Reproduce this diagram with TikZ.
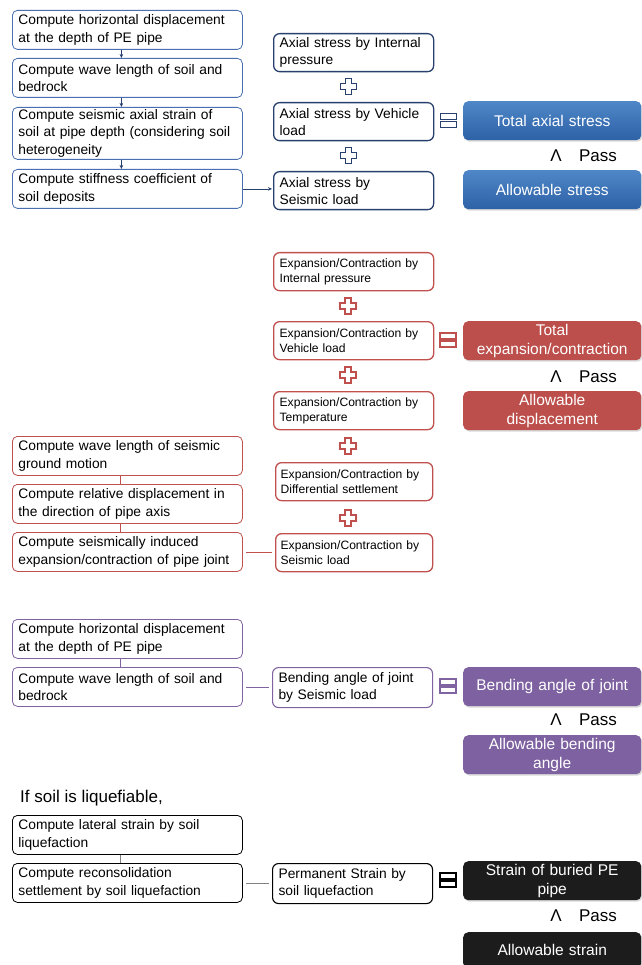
\documentclass[tikz,border=0pt]{standalone}
\usepackage{fontspec}
\setmainfont{Liberation Sans}
\usetikzlibrary{arrows.meta,shadows}
\definecolor{blueL}{HTML}{4A6FB0}
\definecolor{blueD}{HTML}{27406E}
\definecolor{blueT}{HTML}{4F87C8}
\definecolor{blueB}{HTML}{2D62A6}
\definecolor{redC}{HTML}{C0504D}
\definecolor{redF}{HTML}{BC4F4C}
\definecolor{purC}{HTML}{8064A2}
\definecolor{purF}{HTML}{7D61A0}
\definecolor{blkF}{HTML}{1C1C1C}
\newcommand\fs[2]{\fontsize{#1}{#2}\selectfont}
\tikzset{
  lb/.style={draw=#1, fill=white, rounded corners=5pt, text width=218pt, inner xsep=6pt, inner ysep=1pt,
    align=left, anchor=north west, minimum height=39pt, font=\fs{13.8}{17.5}, line width=0.8pt},
  mb/.style={draw=#1, fill=white, rounded corners=6pt, text width=148pt, inner xsep=6pt, inner ysep=1pt,
    align=left, anchor=north west, minimum height=38pt, font=\fs{13.8}{17}, line width=1.3pt},
  redtxt/.style={font=\fs{12.1}{15}},
  rb/.style={rounded corners=5pt, text width=174pt, inner xsep=2pt, inner ysep=1pt, align=center,
    anchor=north west, minimum height=39pt, text=white, font=\fs{15.5}{19},
    drop shadow={opacity=0.3, shadow xshift=1.2pt, shadow yshift=-1.5pt}},
  passtxt/.style={font=\fs{17}{20}, text=black, inner sep=0pt},
  arr/.style={draw=blueD, line width=0.6pt, -{Stealth[length=4pt,width=3.5pt]}},
  conn/.style={line width=0.8pt, shorten <=3pt, shorten >=3pt},
  plussign/.pic={\path[pic actions] (-3,-8)--(3,-8)--(3,-3)--(8,-3)--(8,3)--(3,3)--(3,8)--(-3,8)--(-3,3)--(-8,3)--(-8,-3)--(-3,-3)--cycle;},
  eqsign/.pic={\path[pic actions] (-8,-7) rectangle (8,-1); \path[pic actions] (-8,1) rectangle (8,7);}
}
\begin{document}
\begin{tikzpicture}[x=1pt,y=-1pt]
\useasboundingbox[fill=white] (0,0) rectangle (641,965);

% ---------- Section 1 (blue) ----------
\node[lb=blueL] (a1) at (12,10) {Compute horizontal displacement\\at the depth of PE pipe};
\node[lb=blueL] (a2) at (12,58) {Compute wave length of soil and\\bedrock};
\node[lb=blueL, minimum height=52pt] (a3) at (12,107) {Compute seismic axial strain of\\soil at pipe depth (considering soil\\heterogeneity};
\node[lb=blueL] (a4) at (12,169) {Compute stiffness coefficient of\\soil deposits};
\draw[arr] ([xshift=-6pt]a1.south) -- ([xshift=-6pt]a2.north);
\draw[arr] ([xshift=-6pt]a2.south) -- ([xshift=-6pt]a3.north);
\draw[arr] ([xshift=-6pt]a3.south) -- ([xshift=-6pt]a4.north);

\node[mb=blueD] (b1) at (273,33) {Axial stress by Internal\\pressure};
\node[mb=blueD] (b2) at (273,102) {Axial stress by Vehicle\\load};
\node[mb=blueD] (b3) at (273,171) {Axial stress by\\Seismic load};
\draw[arr, shorten >=1pt] (a4.east) -- (a4.east -| b3.west);
\pic[draw=blueD, fill=white, line width=0.9pt] at (348,86) {plussign};
\pic[draw=blueD, fill=white, line width=0.9pt] at (348,155) {plussign};
\pic[draw=blueD, fill=white, line width=1pt] at (448,121) {eqsign};

\node[rb, top color=blueT, bottom color=blueB] (c1) at (463,101) {Total axial stress};
\node[rb, top color=blueT, bottom color=blueB] (c2) at (463,170) {Allowable stress};
\node[passtxt] (p1a) at (556,156) {Λ};
\node[passtxt] (p1b) at (598,156) {Pass};

% ---------- Section 2 (red) ----------
\node[mb=redC, redtxt] (d1) at (273,252) {Expansion/Contraction by\\Internal pressure};
\node[mb=redC, redtxt] (d2) at (273,321) {Expansion/Contraction by\\Vehicle load};
\node[mb=redC, redtxt] (d3) at (273,391) {Expansion/Contraction by\\Temperature};
\node[mb=redC, redtxt, text width=147pt, inner xsep=5pt] (d4) at (275,462) {Expansion/Contraction by\\Differential settlement};
\node[mb=redC, redtxt, text width=147pt, inner xsep=5pt] (d5) at (275,533) {Expansion/Contraction by\\Seismic load};
\pic[draw=redC, fill=white, line width=1.2pt] at (348,306) {plussign};
\pic[draw=redC, fill=white, line width=1.2pt] at (348,375) {plussign};
\pic[draw=redC, fill=white, line width=1.2pt] at (348,446) {plussign};
\pic[draw=redC, fill=white, line width=1.2pt] at (348,518) {plussign};
\pic[draw=redC, fill=white, line width=1.2pt] at (448,340) {eqsign};

\node[rb, fill=redF] (e1) at (463,321) {Total\\expansion/contraction};
\node[rb, fill=redF] (e2) at (463,391) {Allowable\\displacement};
\node[passtxt] (p2a) at (556,377) {Λ};
\node[passtxt] (p2b) at (598,377) {Pass};

\node[lb=redC] (f1) at (12,436) {Compute wave length of seismic\\ground motion};
\node[lb=redC] (f2) at (12,484) {Compute relative displacement in\\the direction of pipe axis};
\node[lb=redC] (f3) at (12,532) {Compute seismically induced\\expansion/contraction of pipe joint};
\draw[redC, line width=0.8pt] ([xshift=-7pt]f1.south) -- ([xshift=-7pt]f2.north);
\draw[redC, line width=0.8pt] ([xshift=-7pt]f2.south) -- ([xshift=-7pt]f3.north);
\draw[redC, conn] (f3.east) -- (f3.east -| d5.west);

% ---------- Section 3 (purple) ----------
\node[lb=purC] (g1) at (12,619) {Compute horizontal displacement\\at the depth of PE pipe};
\node[lb=purC] (g2) at (12,667) {Compute wave length of soil and\\bedrock};
\draw[purC, line width=0.8pt] ([xshift=-7pt]g1.south) -- ([xshift=-7pt]g2.north);
\node[mb=purC, minimum height=40pt, line width=1.1pt] (h1) at (272,667) {Bending angle of joint\\by Seismic load};
\draw[purC, conn] (g2.east) -- (g2.east -| h1.west);
\pic[draw=purC, fill=white, line width=1.2pt] at (448,686) {eqsign};
\node[rb, fill=purF] (i1) at (463,667) {Bending angle of joint};
\node[rb, fill=purF] (i2) at (463,735) {Allowable bending\\angle};
\node[passtxt] (p3a) at (556,720) {Λ};
\node[passtxt] (p3b) at (598,720) {Pass};

% ---------- Section 4 (black) ----------
\node[anchor=west, inner sep=0pt, font=\fs{17}{20}] (t1) at (20,798) {If soil is liquefiable,};
\node[lb=black] (j1) at (12,815) {Compute lateral strain by soil\\liquefaction};
\node[lb=black] (j2) at (12,863) {Compute reconsolidation\\settlement by soil liquefaction};
\draw[gray, line width=0.8pt] ([xshift=-7pt]j1.south) -- ([xshift=-7pt]j2.north);
\node[mb=black, minimum height=40pt, line width=1.1pt] (k1) at (272,863) {Permanent Strain by\\soil liquefaction};
\draw[gray, conn] (j2.east) -- (j2.east -| k1.west);
\pic[draw=black, fill=white, line width=1.1pt] at (448,880) {eqsign};
\node[rb, fill=blkF] (l1) at (463,861) {Strain of buried PE\\pipe};
\node[rb, fill=blkF, minimum height=36pt] (l2) at (463,932) {Allowable strain};
\node[passtxt] (p4a) at (556,916) {Λ};
\node[passtxt] (p4b) at (598,916) {Pass};
\end{tikzpicture}
\end{document}
